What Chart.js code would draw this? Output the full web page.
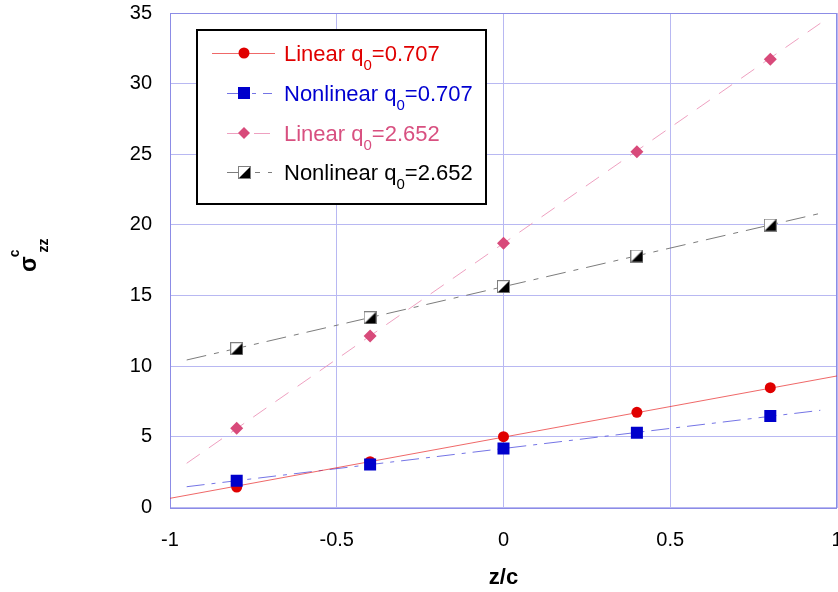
<!DOCTYPE html>
<html>
<head>
<meta charset="utf-8">
<title>sigma_zz^c vs z/c</title>
<script src="https://cdn.jsdelivr.net/npm/chart.js@4.4.0/dist/chart.umd.min.js"></script>
<style>
  html, body { margin: 0; padding: 0; background: #fff; overflow: hidden; }
  #wrap { position: relative; width: 838px; height: 592px; }
</style>
</head>
<body>
<div id="wrap"><canvas id="stressChart"></canvas></div>
<script>
// --- Data ---

// sample positions through the thickness
const zc = [-0.8, -0.4, 0, 0.4, 0.8];

// computed sigma_zz^c at each position
const linear0707 = [1.45, 3.24, 5.01, 6.74, 8.48];
const nonlinear0707 = [1.90, 3.05, 4.18, 5.29, 6.47];
const linear2652 = [5.61, 12.14, 18.70, 25.18, 31.72];
const nonlinear2652 = [11.24, 13.43, 15.63, 17.80, 19.99];

// trend lines, end points
const trendXFull = [-1, 1];
const trendX = [-0.95, 0.95];
const trendLinear0707 = [0.65, 9.31];
const trendNonlinear0707 = [1.47, 6.88];
const trendLinear2652 = [3.13, 34.27];
const trendNonlinear2652 = [10.44, 20.82];

// axes
const xMin = -1, xMax = 1, xStep = 0.5;
const yMin = 0, yMax = 35, yStep = 5;

// legend text: [before subscript, subscript, after subscript]
const legendLabels = [
    ['Linear q', '0', '=0.707'],
    ['Nonlinear q', '0', '=0.707'],
    ['Linear q', '0', '=2.652'],
    ['Nonlinear q', '0', '=2.652']
];

const FONT = 'Arial, "Liberation Sans", sans-serif';

function toPoints(xs, ys) {
    return xs.map((x, i) => ({ x: x, y: ys[i] }));
}

// white square with the lower right half filled black
function halfSquare(size) {
    const c = document.createElement('canvas');
    c.width = size;
    c.height = size;
    const g = c.getContext('2d');
    g.fillStyle = '#fff';
    g.fillRect(0, 0, size, size);
    g.fillStyle = '#000';
    g.beginPath();
    g.moveTo(size - 1, 1);
    g.lineTo(size - 1, size - 1);
    g.lineTo(1, size - 1);
    g.closePath();
    g.fill();
    g.strokeStyle = '#808080';
    g.lineWidth = 1;
    g.strokeRect(0.5, 0.5, size - 1, size - 1);
    return c;
}
const halfSquareImg = halfSquare(13);

// styles per series, same order as legendLabels
const styles = [
    { text: '#e00000', mark: '#e00000', line: 'rgba(232,40,40,0.7)', dash: [], shape: 'circle', lineFrom: 212, lineTo: 275 },
    { text: '#0000d0', mark: '#0000cc', line: 'rgba(70,70,220,0.75)', dash: [18, 7, 4, 7], shape: 'square', lineFrom: 227, lineTo: 272 },
    { text: '#d85080', mark: '#d84a7a', line: 'rgba(236,150,185,0.9)', dash: [16, 11], shape: 'diamond', lineFrom: 227, lineTo: 272 },
    { text: '#000000', mark: '#000000', line: 'rgba(110,110,110,0.9)', dash: [20, 8, 5, 8], shape: 'half', lineFrom: 227, lineTo: 272 }
];

function drawMarker(ctx, shape, color, x, y) {
    ctx.save();
    ctx.fillStyle = color;
    ctx.beginPath();
    if (shape === 'circle') {
        ctx.arc(x, y, 5.5, 0, Math.PI * 2);
        ctx.fill();
    } else if (shape === 'square') {
        ctx.fillRect(x - 6, y - 6, 12, 12);
    } else if (shape === 'diamond') {
        ctx.moveTo(x, y - 6);
        ctx.lineTo(x + 6, y);
        ctx.lineTo(x, y + 6);
        ctx.lineTo(x - 6, y);
        ctx.closePath();
        ctx.fill();
    } else {
        ctx.drawImage(halfSquareImg, Math.round(x - 6.5), Math.round(y - 6.5));
    }
    ctx.restore();
}

// legend box with subscripted labels
const boxLegend = {
    id: 'boxLegend',
    afterDraw(chart) {
        const ctx = chart.ctx;
        const left = 197, top = 30, right = 486, bottom = 204;
        const rows = [53, 93, 133, 172];
        ctx.save();
        ctx.fillStyle = '#fff';
        ctx.fillRect(left, top, right - left, bottom - top);
        ctx.strokeStyle = '#000';
        ctx.lineWidth = 2;
        ctx.strokeRect(left, top, right - left, bottom - top);

        legendLabels.forEach((parts, i) => {
            const st = styles[i];
            const y = rows[i];
            ctx.strokeStyle = st.line;
            ctx.lineWidth = 1;
            ctx.setLineDash(st.dash);
            ctx.beginPath();
            ctx.moveTo(st.lineFrom, y + 0.5);
            ctx.lineTo(st.lineTo, y + 0.5);
            ctx.stroke();
            ctx.setLineDash([]);
            drawMarker(ctx, st.shape, st.mark, 244, y);

            let x = 284;
            const base = y + 8;
            ctx.fillStyle = st.text;
            ctx.textBaseline = 'alphabetic';
            ctx.textAlign = 'left';
            ctx.font = '22px ' + FONT;
            ctx.fillText(parts[0], x, base);
            x += ctx.measureText(parts[0]).width;
            ctx.font = '15px ' + FONT;
            ctx.fillText(parts[1], x, base + 9);
            x += ctx.measureText(parts[1]).width;
            ctx.font = '22px ' + FONT;
            ctx.fillText(parts[2], x, base);
        });
        ctx.restore();
    }
};

// rotated y axis title: sigma with superscript c and subscript zz
const yTitle = {
    id: 'yTitle',
    afterDraw(chart) {
        const ctx = chart.ctx;
        ctx.save();
        ctx.translate(36, 272);
        ctx.rotate(-Math.PI / 2);
        ctx.fillStyle = '#000';
        ctx.textBaseline = 'alphabetic';
        ctx.textAlign = 'left';
        ctx.font = 'bold 23px ' + FONT;
        ctx.fillText('σ', 0, 0);
        let x = ctx.measureText('σ').width;
        ctx.font = 'bold 14px ' + FONT;
        ctx.fillText('c', x - 1, -17);
        x += ctx.measureText('c').width;
        ctx.fillText('zz', x - 4, 12);
        ctx.restore();
    }
};

// darker frame round the plot area
const plotFrame = {
    id: 'plotFrame',
    beforeDatasetsDraw(chart) {
        const { ctx, chartArea: a } = chart;
        ctx.save();
        ctx.strokeStyle = '#8c8ce6';
        ctx.lineWidth = 1;
        ctx.strokeRect(Math.round(a.left) + 0.5, Math.round(a.top) + 0.5,
            Math.round(a.right - a.left) - 1, Math.round(a.bottom - a.top));
        ctx.restore();
    }
};

const ctx = document.getElementById('stressChart');

new Chart(ctx, {
    type: 'scatter',
    data: {
        datasets: [
            // trend lines
            {
                data: toPoints(trendXFull, trendLinear0707),
                showLine: true, pointRadius: 0, borderColor: styles[0].line,
                borderWidth: 1, borderDash: styles[0].dash, order: 10
            },
            {
                data: toPoints(trendX, trendNonlinear0707),
                showLine: true, pointRadius: 0, borderColor: styles[1].line,
                borderWidth: 1, borderDash: styles[1].dash, order: 10
            },
            {
                data: toPoints(trendX, trendLinear2652),
                showLine: true, pointRadius: 0, borderColor: styles[2].line,
                borderWidth: 1, borderDash: styles[2].dash, order: 10
            },
            {
                data: toPoints(trendX, trendNonlinear2652),
                showLine: true, pointRadius: 0, borderColor: styles[3].line,
                borderWidth: 1, borderDash: styles[3].dash, order: 10
            },
            // computed points
            {
                label: 'Linear q0=0.707',
                data: toPoints(zc, linear0707),
                pointStyle: 'circle', pointRadius: 5.5,
                backgroundColor: styles[0].mark, borderColor: styles[0].mark, borderWidth: 0, order: 3
            },
            {
                label: 'Nonlinear q0=0.707',
                data: toPoints(zc, nonlinear0707),
                pointStyle: 'rect', pointRadius: 8.5,
                backgroundColor: styles[1].mark, borderColor: styles[1].mark, borderWidth: 0, order: 2
            },
            {
                label: 'Linear q0=2.652',
                data: toPoints(zc, linear2652),
                pointStyle: 'rectRot', pointRadius: 6.5,
                backgroundColor: styles[2].mark, borderColor: styles[2].mark, borderWidth: 0, order: 4
            },
            {
                label: 'Nonlinear q0=2.652',
                data: toPoints(zc, nonlinear2652),
                pointStyle: halfSquareImg,
                order: 1
            }
        ]
    },
    options: {
        responsive: true,
        maintainAspectRatio: false,
        animation: false,
        events: [],
        layout: { autoPadding: false, padding: { top: 13, right: 1, left: 0, bottom: 0 } },
        plugins: {
            legend: { display: false },
            tooltip: { enabled: false }
        },
        scales: {
            x: {
                type: 'linear',
                min: xMin,
                max: xMax,
                afterFit(scale) {
                    scale.height = 84.5;
                    scale.paddingLeft = 0;
                    scale.paddingRight = 0;
                },
                ticks: {
                    stepSize: xStep,
                    padding: 21,
                    color: '#000',
                    font: { family: FONT, size: 20 },
                    maxRotation: 0,
                    callback: v => String(v)
                },
                grid: { color: '#b8b8f2', drawTicks: false },
                border: { display: false },
                title: {
                    display: true,
                    text: 'z/c',
                    color: '#000',
                    font: { family: FONT, size: 22, weight: 'bold' },
                    padding: { top: 0, bottom: 1 }
                }
            },
            y: {
                type: 'linear',
                min: yMin,
                max: yMax,
                afterFit(scale) {
                    scale.width = 170;
                    scale.paddingTop = 0;
                    scale.paddingBottom = 0;
                },
                ticks: {
                    stepSize: yStep,
                    padding: 18,
                    color: '#000',
                    font: { family: FONT, size: 20 }
                },
                grid: { color: '#b8b8f2', drawTicks: false },
                border: { display: false }
            }
        }
    },
    plugins: [plotFrame, boxLegend, yTitle]
});
</script>
</body>
</html>
